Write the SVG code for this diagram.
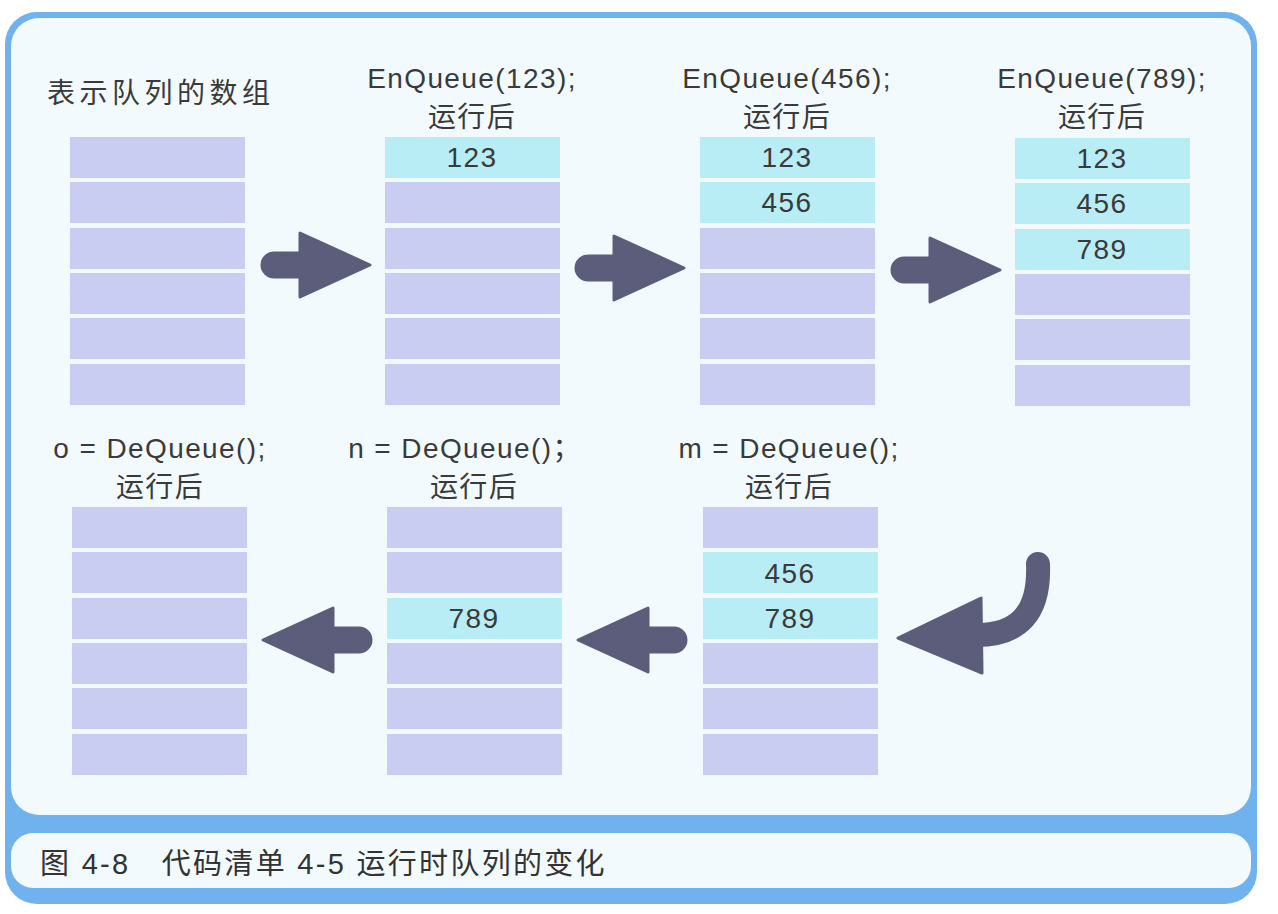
<svg xmlns="http://www.w3.org/2000/svg" xmlns:xlink="http://www.w3.org/1999/xlink" width="1278" height="914" viewBox="0 0 1278 914">
<style>
.bg{fill:#ffffff}
.frame{fill:#70b2ee}
.panel{fill:#f2fafd}
.cell{fill:#c9cdf1}
.hot{fill:#b8edf6}
.t{font-family:"Liberation Sans","Noto Sans CJK SC",sans-serif;font-size:28px;fill:#3a3a3a;letter-spacing:1.4px}
.c{text-anchor:middle}
.cap{font-family:"Liberation Sans","Noto Sans CJK SC",sans-serif;font-size:29px;fill:#333;letter-spacing:2.3px}
.arr{fill:#5b5d7b;stroke:#5b5d7b;stroke-width:3;stroke-linejoin:round}
</style>
<defs>
<path id="arrowR" d="M -96,-12 H -70 V -32 L 0,0 L -70,32 V 12 H -96 A 12 12 0 0 1 -96,-12 Z"/>
</defs>
<rect class="bg" x="0" y="0" width="1278" height="914"/>
<g id="frame">
<rect class="frame" x="5" y="12" width="1252" height="892" rx="32"/>
<rect class="panel" x="11" y="18" width="1240" height="797" rx="28"/>
<rect class="panel" x="11" y="833" width="1240" height="55" rx="22"/>
</g>
<g id="array0">
<text class="t" x="47" y="103" style="letter-spacing:4.5px">表示队列的数组</text>
<rect class="cell" x="70" y="137" width="175" height="41"/>
<rect class="cell" x="70" y="182" width="175" height="41"/>
<rect class="cell" x="70" y="228" width="175" height="41"/>
<rect class="cell" x="70" y="273" width="175" height="41"/>
<rect class="cell" x="70" y="318" width="175" height="41"/>
<rect class="cell" x="70" y="364" width="175" height="41"/>
</g>
<g id="enq123">
<text class="t c" x="472" y="88">EnQueue(123);</text>
<text class="t c" x="472" y="127">运行后</text>
<rect class="hot" x="385" y="137" width="175" height="41"/>
<rect class="cell" x="385" y="182" width="175" height="41"/>
<rect class="cell" x="385" y="228" width="175" height="41"/>
<rect class="cell" x="385" y="273" width="175" height="41"/>
<rect class="cell" x="385" y="318" width="175" height="41"/>
<rect class="cell" x="385" y="364" width="175" height="41"/>
<text class="t c" x="472" y="167">123</text>
</g>
<g id="enq456">
<text class="t c" x="787" y="88">EnQueue(456);</text>
<text class="t c" x="787" y="127">运行后</text>
<rect class="hot" x="700" y="137" width="175" height="41"/>
<rect class="hot" x="700" y="182" width="175" height="41"/>
<rect class="cell" x="700" y="228" width="175" height="41"/>
<rect class="cell" x="700" y="273" width="175" height="41"/>
<rect class="cell" x="700" y="318" width="175" height="41"/>
<rect class="cell" x="700" y="364" width="175" height="41"/>
<text class="t c" x="787" y="167">123</text>
<text class="t c" x="787" y="212">456</text>
</g>
<g id="enq789">
<text class="t c" x="1102" y="88">EnQueue(789);</text>
<text class="t c" x="1102" y="127">运行后</text>
<rect class="hot" x="1015" y="138" width="175" height="41"/>
<rect class="hot" x="1015" y="183" width="175" height="41"/>
<rect class="hot" x="1015" y="229" width="175" height="41"/>
<rect class="cell" x="1015" y="274" width="175" height="41"/>
<rect class="cell" x="1015" y="319" width="175" height="41"/>
<rect class="cell" x="1015" y="365" width="175" height="41"/>
<text class="t c" x="1102" y="168">123</text>
<text class="t c" x="1102" y="213">456</text>
<text class="t c" x="1102" y="259">789</text>
</g>
<g id="deqM">
<text class="t c" x="789" y="458">m = DeQueue();</text>
<text class="t c" x="789" y="497">运行后</text>
<rect class="cell" x="703" y="507" width="175" height="41"/>
<rect class="hot" x="703" y="552" width="175" height="41"/>
<rect class="hot" x="703" y="598" width="175" height="41"/>
<rect class="cell" x="703" y="643" width="175" height="41"/>
<rect class="cell" x="703" y="688" width="175" height="41"/>
<rect class="cell" x="703" y="734" width="175" height="41"/>
<text class="t c" x="790" y="583">456</text>
<text class="t c" x="790" y="628">789</text>
</g>
<g id="deqN">
<text class="t c" x="465" y="458">n = DeQueue()；</text>
<text class="t c" x="474" y="497">运行后</text>
<rect class="cell" x="387" y="507" width="175" height="41"/>
<rect class="cell" x="387" y="552" width="175" height="41"/>
<rect class="hot" x="387" y="598" width="175" height="41"/>
<rect class="cell" x="387" y="643" width="175" height="41"/>
<rect class="cell" x="387" y="688" width="175" height="41"/>
<rect class="cell" x="387" y="734" width="175" height="41"/>
<text class="t c" x="474" y="628">789</text>
</g>
<g id="deqO">
<text class="t c" x="160" y="458">o = DeQueue();</text>
<text class="t c" x="160" y="497">运行后</text>
<rect class="cell" x="72" y="507" width="175" height="41"/>
<rect class="cell" x="72" y="552" width="175" height="41"/>
<rect class="cell" x="72" y="598" width="175" height="41"/>
<rect class="cell" x="72" y="643" width="175" height="41"/>
<rect class="cell" x="72" y="688" width="175" height="41"/>
<rect class="cell" x="72" y="734" width="175" height="41"/>
</g>
<g id="connectors">
<use xlink:href="#arrowR" class="arr" transform="translate(370,265)"/>
<use xlink:href="#arrowR" class="arr" transform="translate(684,268)"/>
<use xlink:href="#arrowR" class="arr" transform="translate(1000,270)"/>
<use xlink:href="#arrowR" class="arr" transform="translate(578,640) scale(-1,1)"/>
<use xlink:href="#arrowR" class="arr" transform="translate(263,640) scale(-1,1)"/>
<path d="M1038,564 C1040,614 1018,635 976,635" fill="none" stroke="#5b5d7b" stroke-width="24" stroke-linecap="round"/>
<polygon class="arr" points="898,638 981,598 982,673"/>
</g>
<g id="caption">
<text class="cap" x="40" y="874">图 4-8　代码清单 4-5 运行时队列的变化</text>
</g>
</svg>
